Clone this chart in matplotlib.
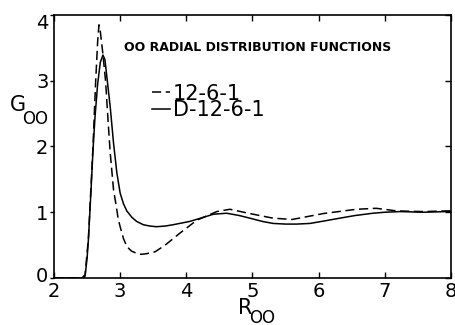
import matplotlib
matplotlib.use('Agg')
import matplotlib.pyplot as plt
import matplotlib.lines as mlines
import matplotlib.transforms as mtransforms

# ── data ────────────────────────────────────────────────────────────────────
R_LJ = [2.00, 2.42, 2.47, 2.52, 2.56, 2.59, 2.63, 2.66, 2.68, 2.70, 2.74,
        2.78, 2.82, 2.85, 2.90, 2.94, 2.97, 3.00, 3.05, 3.10, 3.17, 3.25,
        3.32, 3.40, 3.53, 3.68, 3.90, 4.16, 4.46, 4.66, 4.96, 5.31, 5.60,
        6.07, 6.57, 6.87, 7.18, 7.58, 7.93, 8.00]
G_LJ = [0.00, 0.00, 0.05, 0.60, 1.40, 2.02, 2.99, 3.60, 3.85, 3.75, 3.40,
        2.99, 2.35, 1.90, 1.34, 1.10, 0.90, 0.78, 0.60, 0.48, 0.41, 0.375,
        0.36, 0.37, 0.40, 0.50, 0.68, 0.88, 1.01, 1.045, 0.98, 0.91, 0.89,
        0.98, 1.045, 1.06, 1.02, 1.01, 1.02, 1.02]

R_D = [2.00, 2.45, 2.47, 2.50, 2.52, 2.56, 2.59, 2.62, 2.66, 2.70, 2.74,
       2.77, 2.80, 2.85, 2.90, 2.95, 3.00, 3.05, 3.10, 3.18, 3.25, 3.35,
       3.45, 3.55, 3.68, 3.80, 4.05, 4.25, 4.41, 4.61, 4.80, 4.96, 5.15,
       5.31, 5.50, 5.67, 5.87, 6.10, 6.32, 6.55, 6.82, 7.00, 7.23, 7.58,
       7.93, 8.00]
G_D = [0.00, 0.00, 0.03, 0.30, 0.58, 1.34, 1.95, 2.45, 2.95, 3.28, 3.39,
       3.32, 3.05, 2.60, 2.05, 1.60, 1.29, 1.13, 1.02, 0.92, 0.86, 0.81,
       0.79, 0.78, 0.79, 0.81, 0.86, 0.92, 0.97, 0.985, 0.95, 0.91, 0.86,
       0.83, 0.82, 0.82, 0.83, 0.87, 0.91, 0.95, 0.985, 1.00, 1.01, 1.00,
       1.01, 1.01]

LABELS = ['12-6-1', 'D-12-6-1']
X_TICKS = [2, 3, 4, 5, 6, 7, 8]
Y_TICKS = [0, 1, 2, 3, 4]

# ── plot ─────────────────────────────────────────────────────────────────────
plt.rcParams['font.family'] = ['DejaVu Sans']

fig = plt.figure(figsize=(4.56, 3.25), dpi=100)
ax = fig.add_axes([0.1184, 0.1446, 0.8706, 0.8094])

ax.plot(R_LJ, G_LJ, color='black', lw=1.1, linestyle=(0, (6, 3)), label=LABELS[0])
ax.plot(R_D, G_D, color='black', lw=1.1, label=LABELS[1])

ax.set_xlim(2, 8)
ax.set_ylim(0, 4)
ax.set_xticks(X_TICKS)
ax.set_yticks(Y_TICKS)
ax.tick_params(axis='both', labelsize=14, width=1, length=4)
ax.tick_params(axis='x', direction='in', top=True, pad=3)
ax.tick_params(axis='y', direction='out', right=True, pad=1, length=3)
for s in ax.spines.values():
    s.set_linewidth(1.2)

# left ticks stick out, right ticks point inward (as in the original)
for t in ax.yaxis.get_major_ticks():
    t.tick2line.set_marker(mlines.TICKLEFT)
    t.tick2line.set_markersize(4)

# end labels nudged like the original plotter output
ylabels = ax.get_yticklabels()
ylabels[0].set_transform(ylabels[0].get_transform() +
                         mtransforms.ScaledTranslation(0, 4 / 100, fig.dpi_scale_trans))
ylabels[-1].set_transform(ylabels[-1].get_transform() +
                          mtransforms.ScaledTranslation(0, -7 / 100, fig.dpi_scale_trans))

ax.text(0.514, 0.878, 'OO RADIAL DISTRIBUTION FUNCTIONS', transform=ax.transAxes,
        ha='center', va='center', fontsize=9, fontweight='bold')

leg = ax.legend(loc='upper left', bbox_to_anchor=(0.247, 0.739), frameon=False,
                fontsize=15, handlelength=0.85, handletextpad=0.15,
                labelspacing=-0.15, borderpad=0, borderaxespad=0)

# axis labels: G_OO and R_OO with big offset subscripts
fig.text(18 / 456, 1 - 105 / 325, 'G', fontsize=15, ha='center', va='center')
fig.text(35 / 456, 1 - 119 / 325, 'OO', fontsize=12, ha='center', va='center')
fig.text(245 / 456, 1 - 308 / 325, 'R', fontsize=15, ha='center', va='center')
fig.text(262 / 456, 1 - 318 / 325, 'OO', fontsize=12, ha='center', va='center')

fig.savefig('out.png', dpi=100)
